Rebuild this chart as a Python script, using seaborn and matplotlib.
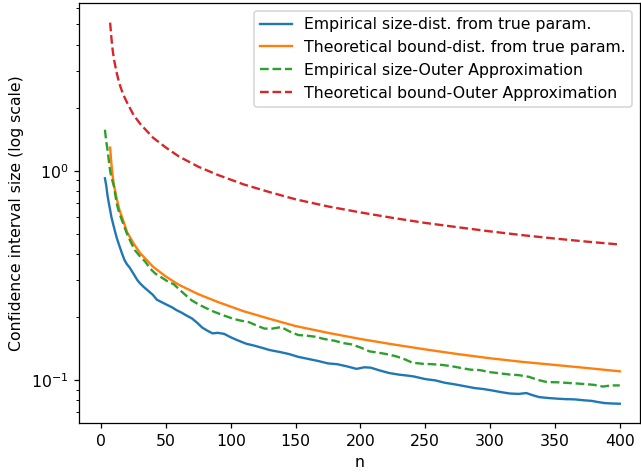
import numpy as np
import pandas as pd
import matplotlib
matplotlib.use("Agg")
import matplotlib.pyplot as plt
import seaborn as sns

# ---- data ----
n_emp_blue = [3, 4, 5, 6, 7, 8, 10, 12, 14, 16, 18, 20, 22, 25, 28, 30, 33, 36, 40, 43, 47, 50,
              55, 58, 62, 66, 70, 74, 78, 82, 86, 90, 95, 100, 105, 112, 118, 125, 130, 138, 145,
              152, 160, 168, 175, 182, 190, 197, 203, 208, 215, 222, 230, 236, 241, 250, 258, 265,
              272, 280, 288, 295, 302, 308, 315, 322, 328, 333, 338, 345, 352, 358, 365, 372, 378,
              383, 388, 394, 400]
emp_true = [0.92, 0.85, 0.76, 0.70, 0.65, 0.60, 0.535, 0.48, 0.44, 0.405, 0.375, 0.357, 0.345,
            0.322, 0.30, 0.29, 0.278, 0.268, 0.255, 0.242, 0.235, 0.23, 0.222, 0.216, 0.21, 0.203,
            0.197, 0.188, 0.178, 0.172, 0.167, 0.168, 0.166, 0.16, 0.155, 0.149, 0.146, 0.142,
            0.139, 0.136, 0.133, 0.129, 0.126, 0.123, 0.12, 0.119, 0.116, 0.113, 0.115, 0.1145,
            0.111, 0.108, 0.106, 0.105, 0.104, 0.101, 0.0995, 0.097, 0.0955, 0.0935, 0.0915,
            0.0905, 0.089, 0.0876, 0.0862, 0.0858, 0.0866, 0.0845, 0.0828, 0.082, 0.0814, 0.081,
            0.0808, 0.080, 0.0795, 0.0785, 0.0776, 0.0772, 0.0770]

n_emp_green = [3, 4, 5, 6, 7, 8, 10, 12, 14, 17, 20, 23, 26, 30, 34, 38, 42, 47, 52, 56, 60, 65,
               70, 75, 80, 87, 95, 102, 108, 114, 120, 126, 132, 139, 145, 152, 158, 165, 172,
               180, 187, 193, 200, 207, 214, 220, 227, 233, 240, 248, 255, 263, 270, 278, 285,
               292, 300, 308, 315, 322, 330, 337, 344, 352, 360, 367, 374, 380, 387, 393, 400]
emp_outer = [1.57, 1.38, 1.26, 1.12, 1.0, 0.93, 0.84, 0.70, 0.63, 0.56, 0.50, 0.455, 0.418, 0.39,
             0.368, 0.34, 0.322, 0.308, 0.294, 0.287, 0.272, 0.255, 0.24, 0.23, 0.222, 0.212,
             0.203, 0.196, 0.192, 0.189, 0.182, 0.176, 0.176, 0.179, 0.171, 0.164, 0.163, 0.161,
             0.157, 0.154, 0.15, 0.148, 0.143, 0.137, 0.135, 0.133, 0.13, 0.1265, 0.121, 0.1195,
             0.119, 0.118, 0.1165, 0.114, 0.112, 0.1115, 0.109, 0.1075, 0.1062, 0.1055, 0.1035,
             0.1, 0.0977, 0.0975, 0.0968, 0.0962, 0.0955, 0.0948, 0.093, 0.0942, 0.0942]

n_theory = [7, 8, 9, 10, 12, 14, 17, 20, 25, 30, 40, 50, 60, 75, 90, 110, 130, 150, 175, 200,
            225, 250, 275, 300, 325, 350, 375, 400]
theo_true = [1.29, 1.08, 0.94, 0.85, 0.74, 0.655, 0.58, 0.51, 0.45, 0.405, 0.348, 0.312, 0.285,
             0.257, 0.236, 0.213, 0.196, 0.181, 0.168, 0.157, 0.148, 0.140, 0.133, 0.127, 0.122,
             0.118, 0.114, 0.110]
theo_outer = [5.1, 4.3, 3.75, 3.4, 2.95, 2.62, 2.32, 2.12, 1.85, 1.68, 1.44, 1.29, 1.17, 1.045,
              0.955, 0.86, 0.79, 0.73, 0.675, 0.632, 0.595, 0.563, 0.537, 0.513, 0.492, 0.474,
              0.458, 0.444]

labels = ["Empirical size-dist. from true param.",
          "Theoretical bound-dist. from true param.",
          "Empirical size-Outer Approximation",
          "Theoretical bound-Outer Approximation"]
colors = ["#1f77b4", "#ff7f0e", "#2ca02c", "#d62728"]

frames = []
for lab, xs, ys in zip(labels, [n_emp_blue, n_theory, n_emp_green, n_theory],
                       [emp_true, theo_true, emp_outer, theo_outer]):
    frames.append(pd.DataFrame({"n": xs, "size": ys, "series": lab}))
df = pd.concat(frames, ignore_index=True)

plt.rcParams['font.family'] = ['DejaVu Sans']
plt.rcParams['font.size'] = 10

DPI = 113
W, H = 641, 472
left, right, top, bottom = 79, 640, 3, 422.7
fig = plt.figure(figsize=(W / DPI, H / DPI), dpi=DPI)
ax = fig.add_axes([left / W, 1 - bottom / H, (right - left) / W, (bottom - top) / H])

dashes = {labels[0]: "", labels[1]: "", labels[2]: (3.7, 1.6), labels[3]: (3.7, 1.6)}
sns.lineplot(data=df, x="n", y="size", hue="series", style="series",
             hue_order=labels, style_order=labels, palette=dict(zip(labels, colors)),
             dashes=dashes, linewidth=1.5, ax=ax)

ax.set_yscale("log")
ax.set_xlim(-17, 415.6)
ax.set_ylim(0.0625, 6.33)
ax.set_xticks([0, 50, 100, 150, 200, 250, 300, 350, 400])
ax.set_xlabel("n")
ax.set_ylabel("Confidence interval size (log scale)")
ax.yaxis.set_label_coords((24.5 - left) / (right - left), 0.5)
ax.legend(loc="upper right")

fig.savefig("out.png", dpi=DPI)
